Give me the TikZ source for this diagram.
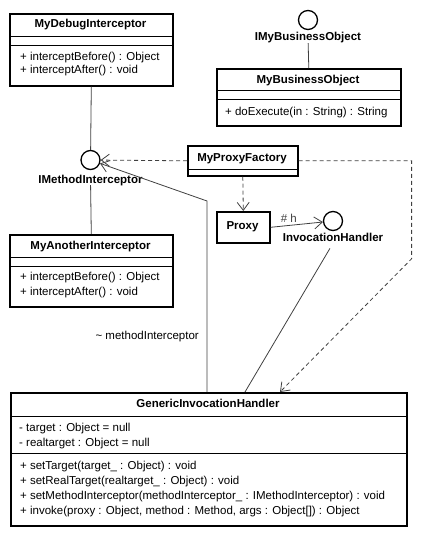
\documentclass[tikz,border=0pt]{standalone}
\usepackage{fontspec}
\setmainfont{Liberation Sans}
\usetikzlibrary{arrows.meta}

\tikzset{
    classbox/.style={draw, line width=1.6pt, fill=white, inner sep=0pt, anchor=north west},
    compline/.style={line width=0.7pt},
    classname/.style={font=\fontsize{11.5}{13}\selectfont\bfseries, inner sep=0pt, text height=8pt, text depth=2pt},
    member/.style={font=\fontsize{11.5}{13}\selectfont, inner sep=0pt, anchor=west, text height=8pt, text depth=2pt},
    iface/.style={draw, circle, line width=1.3pt, minimum size=19pt, inner sep=0pt},
    link/.style={black!75, line width=0.8pt},
    opentip/.style={-{Straight Barb[length=8pt,width=12pt,line width=0.8pt]}},
    dep/.style={link, dash pattern=on 4pt off 3pt, opentip},
}

\begin{document}
\begin{tikzpicture}[x=1pt, y=-1pt]
    \useasboundingbox (0,0) rectangle (424,535);

    % MyDebugInterceptor
    \node[classbox, minimum width=163pt, minimum height=72pt] (debug) at (9,13) {};
    \draw[compline] (9,36) -- (172,36);
    \draw[compline] (9,45) -- (172,45);
    \node[classname] (debug-n) at (90.5,25) {MyDebugInterceptor};
    \node[member] (debug-m1) at (20,57) {+ interceptBefore() : Object};
    \node[member] (debug-m2) at (20,71) {+ interceptAfter() : void};

    % IMethodInterceptor
    \node[iface] (imi) at (90.5,160) {};
    \node[classname] (imi-l) at (90.5,180) {IMethodInterceptor};

    % MyAnotherInterceptor
    \node[classbox, minimum width=163pt, minimum height=72pt] (another) at (9,234) {};
    \draw[compline] (9,257) -- (172,257);
    \draw[compline] (9,266) -- (172,266);
    \node[classname] (another-n) at (90.5,246) {MyAnotherInterceptor};
    \node[member] (another-m1) at (20,277) {+ interceptBefore() : Object};
    \node[member] (another-m2) at (20,292) {+ interceptAfter() : void};

    % IMyBusinessObject / MyBusinessObject
    \node[iface] (ibo) at (308,20) {};
    \node[classname] (ibo-l) at (308,38) {IMyBusinessObject};
    \node[classbox, minimum width=184pt, minimum height=57pt] (mbo) at (216,68) {};
    \draw[compline] (216,90) -- (400,90);
    \draw[compline] (216,99) -- (400,99);
    \node[classname] (mbo-n) at (308,80) {MyBusinessObject};
    \node[member] (mbo-m1) at (225,112) {+ doExecute(in : String) : String};

    % MyProxyFactory
    \node[classbox, minimum width=110pt, minimum height=30pt] (factory) at (187,145) {};
    \draw[compline] (187,169) -- (297,169);
    \node[classname] (factory-n) at (242,158) {MyProxyFactory};

    % Proxy and InvocationHandler
    \node[classbox, minimum width=53pt, minimum height=31pt] (proxy) at (216,211) {};
    \node[classname] (proxy-n) at (242.5,226) {Proxy};
    \node[iface] (ih) at (333,221) {};
    \node[classname] (ih-l) at (333,238) {InvocationHandler};

    % GenericInvocationHandler
    \node[classbox, minimum width=396pt, minimum height=133pt] (gih) at (10,392) {};
    \draw[compline] (10,416) -- (406,416);
    \draw[compline] (10,453) -- (406,453);
    \node[classname] (gih-n) at (208,404) {GenericInvocationHandler};
    \node[member] (gih-a1) at (19,428) {- target : Object = null};
    \node[member] (gih-a2) at (19,443) {- realtarget : Object = null};
    \node[member] (gih-m1) at (20,466) {+ setTarget(target\_ : Object) : void};
    \node[member] (gih-m2) at (20,481) {+ setRealTarget(realtarget\_ : Object) : void};
    \node[member] (gih-m3) at (20,496) {+ setMethodInterceptor(methodInterceptor\_ : IMethodInterceptor) : void};
    \node[member] (gih-m4) at (20,511) {+ invoke(proxy : Object, method : Method, args : Object[]) : Object};
    \coordinate (gih-mi) at (207,392);
    \coordinate (gih-ih) at (245,392);
    \coordinate (gih-pf) at (280,392);

    % Connectors
    \draw[link] (debug.south) -- (imi);
    \draw[link] (imi-l) -- (another.north);
    \draw[link] (ibo-l) -- (mbo.north);
    \draw[dep] (factory.west) -- (imi);
    \draw[dep] (factory.south) -- (proxy.north);
    \draw[dep] (factory.east) -- ++(113,0) -- ++(0,98) -- (gih-pf);
    \draw[link, opentip] (proxy.east) -- node[member, anchor=south, pos=0.35, yshift=1pt] (h-l) {\# h} (ih);
    \draw[link, shorten <=6pt] (ih-l.south) -- (gih-ih);
    \draw[link, opentip] (gih-mi) -- ++(0,-191) -- (imi);
    \node[member, anchor=east] (mi-l) at (199,336) {\textasciitilde{} methodInterceptor};
\end{tikzpicture}
\end{document}
